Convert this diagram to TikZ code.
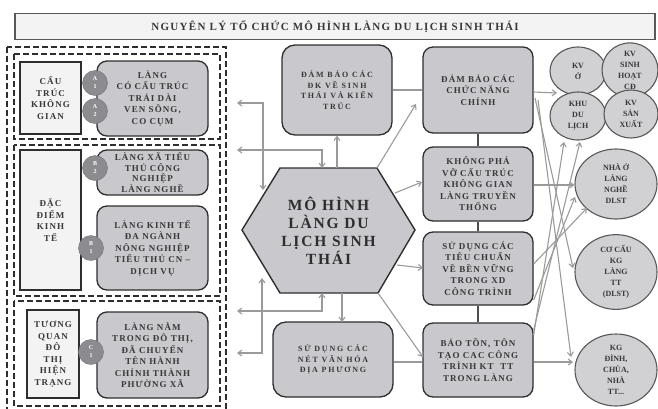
\documentclass[tikz,border=0pt]{standalone}
\usepackage{fontspec}
\setmainfont{Liberation Serif}
\newfontfamily\widebf[LetterSpace=12]{Liberation Serif}
\newfontfamily\widerbf[LetterSpace=22]{Liberation Serif}
\usetikzlibrary{shapes.geometric,arrows.meta}

\definecolor{boxfill}{HTML}{C9C9CD}
\definecolor{boxline}{HTML}{2E2E2E}
\definecolor{txtgrey}{HTML}{383838}
\definecolor{linkgrey}{HTML}{9A9A9A}
\definecolor{tagfill}{HTML}{8C8C90}
\definecolor{paper}{HTML}{F3F3F3}

\tikzset{
  greybox/.style={draw=boxline, line width=1.3pt, fill=boxfill, rounded corners=10pt,
    align=center, text=txtgrey, inner sep=0pt,
    font=\widebf\bfseries\fontsize{9}{11.5}\selectfont},
  whitebox/.style={draw=boxline, line width=1.2pt, fill=paper, align=center,
    text=txtgrey, inner sep=0pt, font=\widebf\bfseries\fontsize{9}{11.5}\selectfont},
  tag/.style={circle, draw=tagfill!80!black, fill=tagfill, minimum size=25pt,
    inner sep=0pt, align=center, text=white, font=\bfseries\fontsize{6}{8}\selectfont},
  zone/.style={ellipse, draw=boxline!80, line width=1.1pt, fill=boxfill!85!white,
    inner sep=0pt, align=center, text=txtgrey, font=\bfseries\fontsize{8}{11}\selectfont},
  frame/.style={draw=boxline, line width=1.2pt, dash pattern=on 6pt off 3pt},
  link/.style={draw=linkgrey, line width=1.1pt, -{Straight Barb[length=4pt,width=6pt]}},
  twoway/.style={draw=linkgrey, line width=1.1pt,
    {Straight Barb[length=4pt,width=6pt]}-{Straight Barb[length=4pt,width=6pt]}},
  bar/.style={draw=linkgrey, line width=1.1pt},
  chain/.style={draw=boxline!85, line width=1.4pt}
}

\begin{document}
\begin{tikzpicture}[x=1pt,y=-1pt]
    \useasboundingbox (0,0) rectangle (658,408);

    % draw title
    \node[draw=boxline!80, line width=1.3pt, fill=paper, minimum width=640pt, minimum height=26pt,
      inner sep=0pt, text=txtgrey, font=\widebf\bfseries\fontsize{11}{12}\selectfont]
      (title) at (335,26.5) {NGUYÊN LÝ TỔ CHỨC MÔ HÌNH LÀNG DU LỊCH SINH THÁI};

    % draw dashed frames
    \draw[frame] (7,47) rectangle (226,411);
    \draw[frame] (14,54) rectangle (220,139);
    \draw[frame] (14,145) rectangle (220,296);
    \draw[frame] (14,301) rectangle (220,406);

    % draw left column
    \node[whitebox, minimum width=61pt, minimum height=72pt] (spatial) at (50.5,98) {CẤU\\TRÚC\\KHÔNG\\GIAN};
    \node[whitebox, minimum width=61pt, minimum height=140pt] (economy) at (50.5,220) {ĐẶC\\ĐIỂM\\KINH\\TẾ};
    \node[whitebox, minimum width=52pt, minimum height=88pt] (urban) at (53,354) {TƯƠNG\\QUAN\\ĐÔ\\THỊ\\HIỆN\\TRẠNG};

    \node[greybox, minimum width=111pt, minimum height=75pt] (riverside) at (152.5,98.5)
      {LÀNG\\CÓ CẤU TRÚC\\TRẢI DÀI\\VEN SÔNG,\\CO CỤM};
    \node[greybox, minimum width=111pt, minimum height=45pt,
      font=\widebf\bfseries\fontsize{9}{10.5}\selectfont] (craft) at (152.5,172.5)
      {LÀNG XÃ TIỂU\\THỦ CÔNG\\NGHIỆP\\LÀNG NGHỀ};
    \node[greybox, minimum width=111pt, minimum height=84pt] (mixed) at (152.5,248)
      {LÀNG KINH TẾ\\ĐA NGÀNH\\NÔNG NGHIỆP\\TIỂU THỦ CN –\\DỊCH VỤ};
    \node[greybox, minimum width=111pt, minimum height=86pt] (inurban) at (152.5,355)
      {LÀNG NẰM\\TRONG ĐÔ THỊ,\\ĐÃ CHUYỂN\\TÊN HÀNH\\CHÍNH THÀNH\\PHƯỜNG XÃ};

    \node[tag] (a1) at (95,83) {A\\1};
    \node[tag] (a2) at (95,111) {A\\2};
    \node[tag] (b1) at (95,168) {B\\2};
    \node[tag] (b2) at (91,248) {B\\1};
    \node[tag] (c1) at (91,352) {C\\1};

    % draw hexagon
    \coordinate (hxW) at (242,230);
    \coordinate (hxNW) at (280,168);
    \coordinate (hxNE) at (377,168);
    \coordinate (hxE) at (415,230);
    \coordinate (hxSE) at (378,293);
    \coordinate (hxSW) at (280,293);
    \draw[draw=boxline, line width=1.4pt, fill=boxfill] (hxW) -- (hxNW) -- (hxNE) -- (hxE) -- (hxSE) -- (hxSW) -- cycle;
    \node[align=center, text=boxline, font=\widebf\bfseries\fontsize{15.5}{18}\selectfont]
      (hub) at (328.5,231) {MÔ HÌNH\\LÀNG DU\\LỊCH SINH\\THÁI};

    % draw middle boxes
    \node[greybox, rounded corners=13pt, minimum width=110pt, minimum height=90pt,
      font=\widerbf\bfseries\fontsize{8}{10.5}\selectfont] (ecology) at (337,90)
      {ĐẢM BẢO CÁC\\ĐK VỀ SINH\\THÁI VÀ KIẾN\\TRÚC};
    \node[greybox, rounded corners=13pt, minimum width=120pt, minimum height=75pt,
      font=\widerbf\bfseries\fontsize{8}{10.5}\selectfont] (culture) at (333,359.5)
      {SỬ DỤNG CÁC\\NÉT VĂN HÓA\\ĐỊA PHƯƠNG};

    % draw right column
    \node[greybox, minimum width=110pt, minimum height=86pt] (functions) at (478,90)
      {ĐẢM BẢO CÁC\\CHỨC NĂNG\\CHÍNH};
    \node[greybox, minimum width=110pt, minimum height=74pt] (tradition) at (478,184)
      {KHÔNG PHÁ\\VỠ CẤU TRÚC\\KHÔNG GIAN\\LÀNG TRUYỀN\\THỐNG};
    \node[greybox, minimum width=110pt, minimum height=73pt] (standards) at (478,268.5)
      {SỬ DỤNG CÁC\\TIÊU CHUẨN\\VỀ BỀN VỮNG\\TRONG XD\\CÔNG TRÌNH};
    \node[greybox, minimum width=110pt, minimum height=74pt] (heritage) at (478,360)
      {BẢO TỒN, TÔN\\TẠO CAC CÔNG\\TRÌNH KT\ \ TT\\TRONG LÀNG};

    \draw[chain] (functions) -- (tradition);
    \draw[chain] (tradition) -- (standards);
    \draw[chain] (standards) -- (heritage);

    % draw zones
    \node[zone, minimum width=56pt, minimum height=48pt] (home) at (578,71) {KV\\Ở};
    \node[zone, minimum width=56pt, minimum height=50pt] (commune) at (630,70) {KV\\SINH\\HOẠT\\CĐ};
    \node[zone, minimum width=56pt, minimum height=48pt] (tourism) at (578,116) {KHU\\DU\\LỊCH};
    \node[zone, minimum width=54pt, minimum height=48pt] (production) at (631,114) {KV\\SẢN\\XUẤT};
    \node[zone, minimum width=82pt, minimum height=70pt] (crafthouse) at (616,184) {NHÀ Ở\\LÀNG\\NGHỀ\\DLST};
    \node[zone, minimum width=82pt, minimum height=62pt] (layout) at (616,272) {CƠ CẤU\\KG\\LÀNG\\TT\\(DLST)};
    \node[zone, minimum width=82pt, minimum height=72pt] (temple) at (616,370) {KG\\ĐÌNH,\\CHÙA,\\NHÀ\\TT...};

    % draw left connectors
    \coordinate (ta) at (237,103);
    \coordinate (tb) at (237,150);
    \coordinate (tc) at (237,311);
    \coordinate (td) at (237,353);
    \draw[twoway] (ta) -| (263,190);
    \draw[twoway] (tb) -| (322,168);
    \draw[twoway] (tc) -| (322,293);
    \draw[twoway] (td) -| (262,278);

    % draw middle connectors
    \draw[link] (337,168) -- (ecology.south);
    \draw[link] (342,293) -- (342,322);
    \draw[bar] (ecology.east) -- (functions.west |- ecology.east);
    \draw[bar] (culture.east |- 0,362) -- (heritage.west |- 0,362);
    \draw[link] (hxNE) -- (416,104);
    \draw[link] (395,193) -- (422,182);
    \draw[link] (397,265) -- (423,268);
    \draw[link] (hxSE) -- (423,357);

    % draw right connectors
    \draw[link] (functions.east |- 0,92) -- (557,93);
    \draw[link] (535,98) -- (573,268);
    \draw[link] (538,100) -- (571,357);
    \draw[link] (tradition.east |- 0,185) -- (crafthouse.west |- 0,185);
    \draw[link] (standards.east |- 0,264) -- (587,208);
    \draw[link] (standards.east |- 0,300) -- (575,197);
    \draw[link] (heritage.east |- 0,330) -- (580,142);
    \draw[link] (heritage.east |- 0,335) -- (564,142);
    \draw[link] (heritage.east |- 0,362) -- (573,362);
\end{tikzpicture}
\end{document}
